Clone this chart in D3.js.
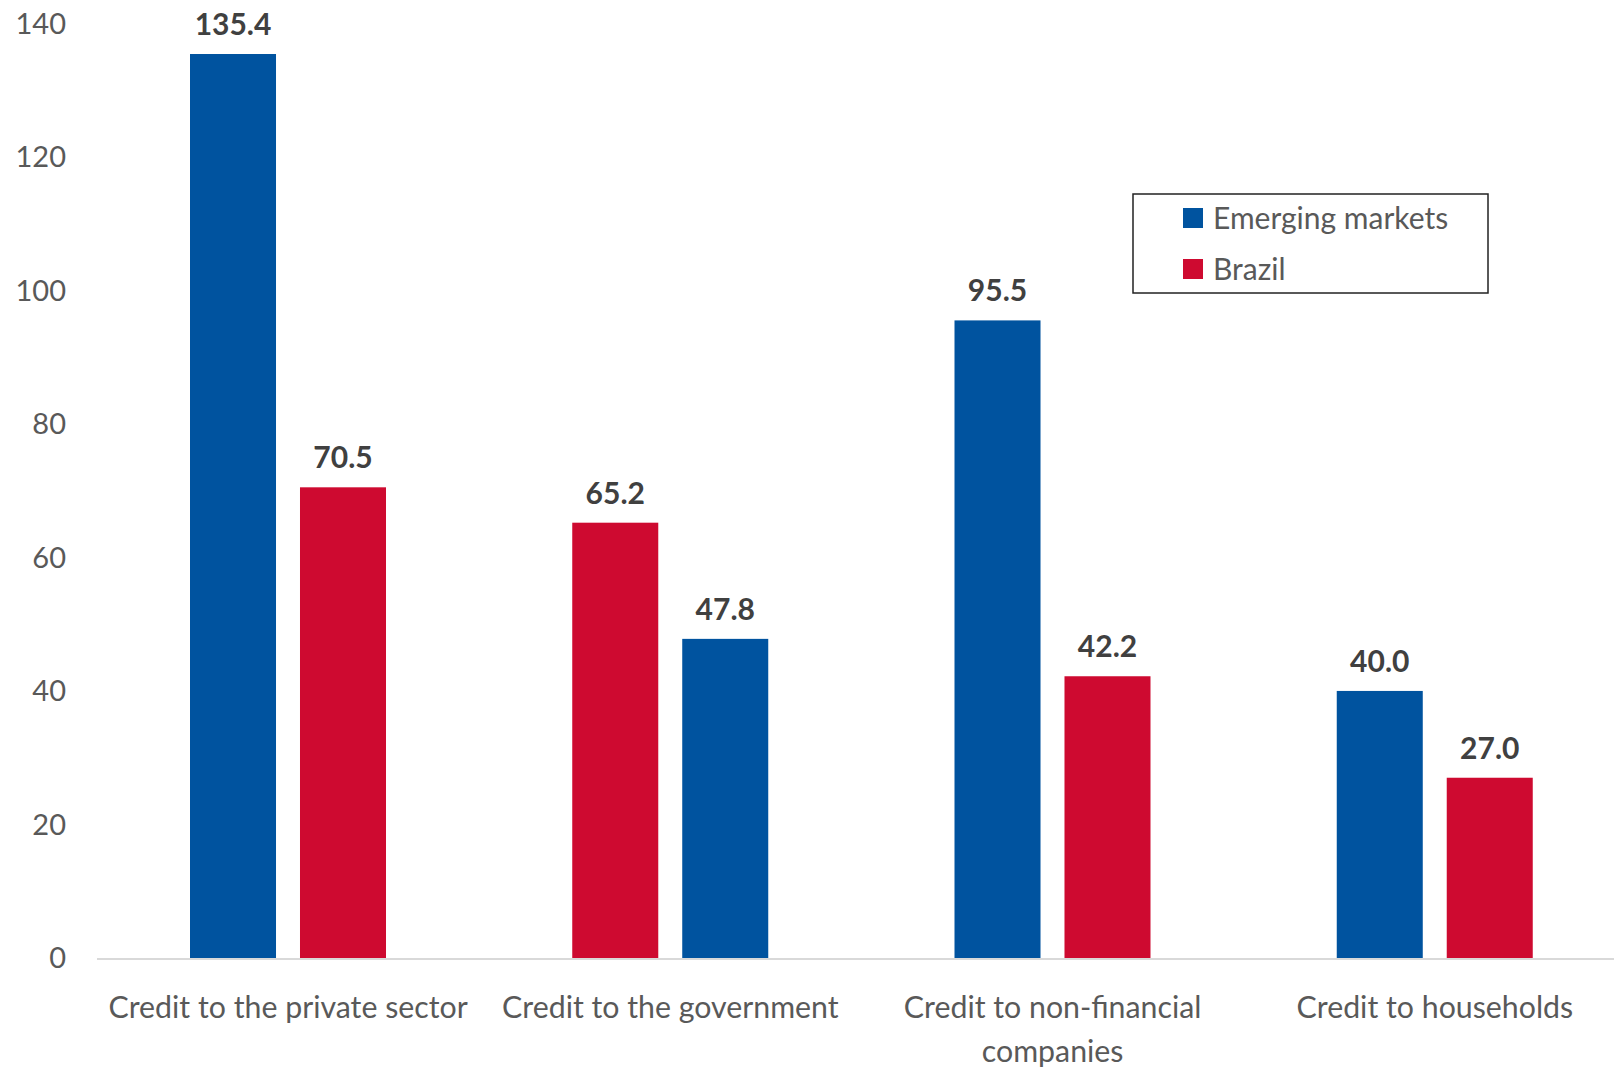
<!DOCTYPE html>
<html><head><meta charset="utf-8">
<script src="https://cdn.jsdelivr.net/npm/d3@7/dist/d3.min.js"></script>
<style>html,body{margin:0;padding:0;background:#fff;}svg{display:block;}</style>
</head><body><svg id="c" width="1614" height="1068"></svg>
<script>
const categories = ["Credit to the private sector", "Credit to the government", "Credit to non-financial companies", "Credit to households"];
const categoryLines = [["Credit to the private sector"], ["Credit to the government"], ["Credit to non-financial", "companies"], ["Credit to households"]];
const seriesNames = ["Emerging markets", "Brazil"];
const emergingMarkets = [135.4, 47.8, 95.5, 40.0];
const brazil = [70.5, 65.2, 42.2, 27.0];
// which series is drawn first (left) in each group
const firstSeries = ["Emerging markets", "Brazil", "Emerging markets", "Emerging markets"];
const yTicks = [0, 20, 40, 60, 80, 100, 120, 140];
const colors = {"Emerging markets": "#00539F", "Brazil": "#CE0A30"};

const svg = d3.select("#c");
const FONT = "Lato, 'Open Sans', sans-serif";
const y = d3.scaleLinear().domain([0, 140]).range([958, 23.3]);
const x = d3.scaleBand().domain(categories).range([97, 1626]).padding(0);
const inner = d3.scaleBand().domain([0, 1]).range([93, 289]).paddingInner(0.218).paddingOuter(0);

// y axis labels
svg.append("g").selectAll("text").data(yTicks).join("text")
  .attr("x", 66).attr("y", d => y(d)).attr("dy", "0.36em")
  .attr("text-anchor", "end").attr("font-family", FONT).attr("font-size", 29)
  .attr("fill", "#595959").text(d => d);

// baseline
svg.append("line").attr("x1", 97).attr("x2", 1614).attr("y1", y(0) + 1).attr("y2", y(0) + 1)
  .attr("stroke", "#d9d9d9").attr("stroke-width", 2);

const rows = [];
categories.forEach((c, i) => {
  const vals = {"Emerging markets": emergingMarkets[i], "Brazil": brazil[i]};
  const order = firstSeries[i] === "Brazil" ? ["Brazil", "Emerging markets"] : ["Emerging markets", "Brazil"];
  order.forEach((s, k) => rows.push({cat: c, series: s, slot: k, value: vals[s]}));
});

const g = svg.append("g");
g.selectAll("rect").data(rows).join("rect")
  .attr("x", d => x(d.cat) + inner(d.slot))
  .attr("width", inner.bandwidth())
  .attr("y", d => y(d.value))
  .attr("height", d => y(0) - y(d.value))
  .attr("fill", d => colors[d.series]);

g.selectAll("text").data(rows).join("text")
  .attr("x", d => x(d.cat) + inner(d.slot) + inner.bandwidth() / 2)
  .attr("y", d => y(d.value) - 19)
  .attr("text-anchor", "middle").attr("font-family", FONT).attr("font-weight", "bold")
  .attr("font-size", 30).attr("fill", "#404040")
  .text(d => d.value.toFixed(1));

// category labels
const cl = svg.append("g").selectAll("text").data(categories).join("text")
  .attr("x", d => x(d) + x.bandwidth() / 2)
  .attr("y", 1018)
  .attr("text-anchor", "middle").attr("font-family", FONT).attr("font-size", 30.3)
  .attr("fill", "#595959");
cl.each(function(d, i) {
  const t = d3.select(this);
  categoryLines[i].forEach((line, j) => {
    t.append("tspan").attr("x", x(d) + x.bandwidth() / 2).attr("dy", j === 0 ? 0 : 44).text(line);
  });
});

// legend
const lg = svg.append("g");
lg.append("rect").attr("x", 1133).attr("y", 194).attr("width", 355).attr("height", 99)
  .attr("fill", "#fff").attr("stroke", "#222").attr("stroke-width", 1.5);
seriesNames.forEach((s, i) => {
  lg.append("rect").attr("x", 1183).attr("y", 208 + i * 51).attr("width", 20).attr("height", 20).attr("fill", colors[s]);
  lg.append("text").attr("x", 1213).attr("y", 229 + i * 51).attr("font-family", FONT).attr("font-size", 30)
    .attr("fill", "#595959").text(s);
});
</script></body></html>
